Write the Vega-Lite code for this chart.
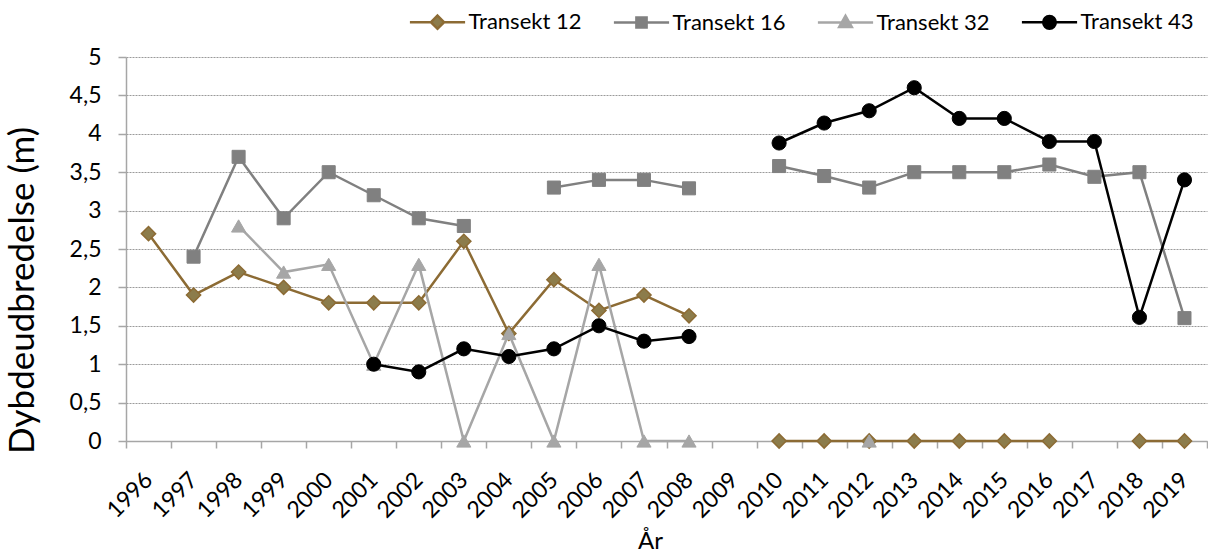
{
  "$schema": "https://vega.github.io/schema/vega-lite/v6.json",
  "autosize": "none",
  "width": 1081,
  "height": 384,
  "padding": {"left": 126, "top": 57, "right": 1, "bottom": 112},
  "background": "white",
  "config": {
    "view": {"stroke": null},
    "font": "Lato",
    "axis": {"labelFont": "Lato", "titleFont": "Lato", "labelColor": "#000000", "titleColor": "#000000", "titleFontWeight": "normal"},
    "legend": {"labelFont": "Lato"}
  },
  "data": {
    "values": [
      {"year": "1996", "series": "Transekt 12", "value": 2.7},
      {"year": "1997", "series": "Transekt 12", "value": 1.9},
      {"year": "1998", "series": "Transekt 12", "value": 2.2},
      {"year": "1999", "series": "Transekt 12", "value": 2.0},
      {"year": "2000", "series": "Transekt 12", "value": 1.8},
      {"year": "2001", "series": "Transekt 12", "value": 1.8},
      {"year": "2002", "series": "Transekt 12", "value": 1.8},
      {"year": "2003", "series": "Transekt 12", "value": 2.6},
      {"year": "2004", "series": "Transekt 12", "value": 1.4},
      {"year": "2005", "series": "Transekt 12", "value": 2.1},
      {"year": "2006", "series": "Transekt 12", "value": 1.7},
      {"year": "2007", "series": "Transekt 12", "value": 1.9},
      {"year": "2008", "series": "Transekt 12", "value": 1.63},
      {"year": "2009", "series": "Transekt 12", "value": null},
      {"year": "2010", "series": "Transekt 12", "value": 0},
      {"year": "2011", "series": "Transekt 12", "value": 0},
      {"year": "2012", "series": "Transekt 12", "value": 0},
      {"year": "2013", "series": "Transekt 12", "value": 0},
      {"year": "2014", "series": "Transekt 12", "value": 0},
      {"year": "2015", "series": "Transekt 12", "value": 0},
      {"year": "2016", "series": "Transekt 12", "value": 0},
      {"year": "2017", "series": "Transekt 12", "value": null},
      {"year": "2018", "series": "Transekt 12", "value": 0},
      {"year": "2019", "series": "Transekt 12", "value": 0},

      {"year": "1996", "series": "Transekt 16", "value": null},
      {"year": "1997", "series": "Transekt 16", "value": 2.4},
      {"year": "1998", "series": "Transekt 16", "value": 3.7},
      {"year": "1999", "series": "Transekt 16", "value": 2.9},
      {"year": "2000", "series": "Transekt 16", "value": 3.5},
      {"year": "2001", "series": "Transekt 16", "value": 3.2},
      {"year": "2002", "series": "Transekt 16", "value": 2.9},
      {"year": "2003", "series": "Transekt 16", "value": 2.8},
      {"year": "2004", "series": "Transekt 16", "value": null},
      {"year": "2005", "series": "Transekt 16", "value": 3.3},
      {"year": "2006", "series": "Transekt 16", "value": 3.4},
      {"year": "2007", "series": "Transekt 16", "value": 3.4},
      {"year": "2008", "series": "Transekt 16", "value": 3.29},
      {"year": "2009", "series": "Transekt 16", "value": null},
      {"year": "2010", "series": "Transekt 16", "value": 3.58},
      {"year": "2011", "series": "Transekt 16", "value": 3.45},
      {"year": "2012", "series": "Transekt 16", "value": 3.3},
      {"year": "2013", "series": "Transekt 16", "value": 3.5},
      {"year": "2014", "series": "Transekt 16", "value": 3.5},
      {"year": "2015", "series": "Transekt 16", "value": 3.5},
      {"year": "2016", "series": "Transekt 16", "value": 3.6},
      {"year": "2017", "series": "Transekt 16", "value": 3.44},
      {"year": "2018", "series": "Transekt 16", "value": 3.5},
      {"year": "2019", "series": "Transekt 16", "value": 1.6},

      {"year": "1996", "series": "Transekt 32", "value": null},
      {"year": "1997", "series": "Transekt 32", "value": null},
      {"year": "1998", "series": "Transekt 32", "value": 2.8},
      {"year": "1999", "series": "Transekt 32", "value": 2.2},
      {"year": "2000", "series": "Transekt 32", "value": 2.3},
      {"year": "2001", "series": "Transekt 32", "value": 1.0},
      {"year": "2002", "series": "Transekt 32", "value": 2.3},
      {"year": "2003", "series": "Transekt 32", "value": 0},
      {"year": "2004", "series": "Transekt 32", "value": 1.4},
      {"year": "2005", "series": "Transekt 32", "value": 0},
      {"year": "2006", "series": "Transekt 32", "value": 2.3},
      {"year": "2007", "series": "Transekt 32", "value": 0},
      {"year": "2008", "series": "Transekt 32", "value": 0},
      {"year": "2009", "series": "Transekt 32", "value": null},
      {"year": "2010", "series": "Transekt 32", "value": null},
      {"year": "2011", "series": "Transekt 32", "value": null},
      {"year": "2012", "series": "Transekt 32", "value": 0},
      {"year": "2013", "series": "Transekt 32", "value": null},
      {"year": "2014", "series": "Transekt 32", "value": null},
      {"year": "2015", "series": "Transekt 32", "value": null},
      {"year": "2016", "series": "Transekt 32", "value": null},
      {"year": "2017", "series": "Transekt 32", "value": null},
      {"year": "2018", "series": "Transekt 32", "value": null},
      {"year": "2019", "series": "Transekt 32", "value": null},

      {"year": "1996", "series": "Transekt 43", "value": null},
      {"year": "1997", "series": "Transekt 43", "value": null},
      {"year": "1998", "series": "Transekt 43", "value": null},
      {"year": "1999", "series": "Transekt 43", "value": null},
      {"year": "2000", "series": "Transekt 43", "value": null},
      {"year": "2001", "series": "Transekt 43", "value": 1.0},
      {"year": "2002", "series": "Transekt 43", "value": 0.9},
      {"year": "2003", "series": "Transekt 43", "value": 1.2},
      {"year": "2004", "series": "Transekt 43", "value": 1.1},
      {"year": "2005", "series": "Transekt 43", "value": 1.2},
      {"year": "2006", "series": "Transekt 43", "value": 1.5},
      {"year": "2007", "series": "Transekt 43", "value": 1.3},
      {"year": "2008", "series": "Transekt 43", "value": 1.36},
      {"year": "2009", "series": "Transekt 43", "value": null},
      {"year": "2010", "series": "Transekt 43", "value": 3.88},
      {"year": "2011", "series": "Transekt 43", "value": 4.14},
      {"year": "2012", "series": "Transekt 43", "value": 4.3},
      {"year": "2013", "series": "Transekt 43", "value": 4.6},
      {"year": "2014", "series": "Transekt 43", "value": 4.2},
      {"year": "2015", "series": "Transekt 43", "value": 4.2},
      {"year": "2016", "series": "Transekt 43", "value": 3.9},
      {"year": "2017", "series": "Transekt 43", "value": 3.9},
      {"year": "2018", "series": "Transekt 43", "value": 1.61},
      {"year": "2019", "series": "Transekt 43", "value": 3.4}
    ]
  },
  "encoding": {
    "x": {
      "field": "year",
      "type": "nominal",
      "sort": null,
      "scale": {
        "type": "band",
        "paddingInner": 0,
        "paddingOuter": 0,
        "domain": ["1996","1997","1998","1999","2000","2001","2002","2003","2004","2005","2006","2007","2008","2009","2010","2011","2012","2013","2014","2015","2016","2017","2018","2019"]
      },
      "axis": {
        "title": "År",
        "titleFontSize": 24,
        "titleX": 524,
        "titleY": 100,
        "titleAlign": "center",
        "titleBaseline": "middle",
        "labelAngle": -45,
        "labelAlign": "right",
        "labelBaseline": "middle",
        "labelFontSize": 23,
        "labelPadding": 28,
        "tickBand": "extent",
        "tickSize": 7,
        "tickColor": "#A6A6A6",
        "domainColor": "#A6A6A6",
        "domainWidth": 1.5,
        "tickWidth": 1.5,
        "grid": false
      }
    },
    "y": {
      "field": "value",
      "type": "quantitative",
      "scale": {"domain": [0, 5], "nice": false},
      "axis": {
        "title": "Dybdeudbredelse (m)",
        "titleFontSize": 35,
        "titleAngle": -90,
        "titleX": -104,
        "titleY": 233,
        "titleAlign": "center",
        "titleBaseline": "middle",
        "values": [0, 0.5, 1, 1.5, 2, 2.5, 3, 3.5, 4, 4.5, 5],
        "labelExpr": "replace(toString(datum.value), '.', ',')",
        "labelFontSize": 23,
        "labelPadding": 17,
        "tickSize": 8,
        "tickColor": "#A6A6A6",
        "domainColor": "#A6A6A6",
        "domainWidth": 1.5,
        "tickWidth": 1.5,
        "grid": true,
        "gridColor": "#9A9A9A",
        "gridDash": [2, 1],
        "gridWidth": 1
      }
    }
  },
  "layer": [
    {
      "mark": {"type": "line", "strokeWidth": 2.5, "invalid": "break-paths-show-domains"},
      "encoding": {
        "stroke": {
          "field": "series",
          "type": "nominal",
          "scale": {
            "domain": ["Transekt 12", "Transekt 16", "Transekt 32", "Transekt 43"],
            "range": ["#8C6B34", "#808080", "#A6A6A6", "#000000"]
          },
          "legend": {
            "title": null,
            "orient": "none",
            "direction": "horizontal",
            "legendX": 282,
            "legendY": -46,
            "padding": 0,
            "symbolSize": 144,
            "symbolOffset": 18.5,
            "labelOffset": 20,
            "labelFontSize": 22,
            "labelColor": "#000000",
            "columnPadding": 26,
            "symbolStrokeWidth": 2.5,
            "encode": {
              "symbols": {
                "update": {
                  "shape": {"signal": "datum.value === 'Transekt 12' ? 'M-4.6,0H-1.1M1.1,0H4.6M0,-1.1L1.1,0L0,1.1L-1.1,0Z' : datum.value === 'Transekt 16' ? 'M-4.6,0H-0.85M0.85,0H4.6M-0.85,-0.85H0.85V0.85H-0.85Z' : datum.value === 'Transekt 32' ? 'M-4.6,0H-0.6M0.6,0H4.6M0,-1.1L1.05,0.75H-1.05Z' : 'M-4.6,0H-1.05M1.05,0H4.6M1.05,0A1.05,1.05,0,1,1,-1.05,0A1.05,1.05,0,1,1,1.05,0Z'"},
                  "fill": {"signal": "datum.value === 'Transekt 12' ? '#8C7C4B' : datum.value === 'Transekt 16' ? '#808080' : datum.value === 'Transekt 32' ? '#A6A6A6' : '#000000'"},
                  "stroke": {"signal": "datum.value === 'Transekt 12' ? '#8C6B34' : datum.value === 'Transekt 16' ? '#808080' : datum.value === 'Transekt 32' ? '#A6A6A6' : '#000000'"},
                  "strokeWidth": {"value": 2.5},
                  "opacity": {"value": 1}
                }
              }
            }
          }
        }
      }
    },
    {
      "transform": [{"filter": "datum.series === 'Transekt 12' && isValid(datum.value)"}],
      "mark": {"type": "point", "shape": "diamond", "filled": true, "fill": "#8C7C4B", "stroke": "#8C6B34", "strokeWidth": 1.5, "size": 200, "opacity": 1}
    },
    {
      "transform": [{"filter": "datum.series === 'Transekt 16' && isValid(datum.value)"}],
      "mark": {"type": "point", "shape": "square", "filled": true, "fill": "#808080", "stroke": "#808080", "strokeWidth": 1, "size": 170, "opacity": 1}
    },
    {
      "transform": [{"filter": "datum.series === 'Transekt 32' && isValid(datum.value)"}],
      "mark": {"type": "point", "shape": "triangle-up", "filled": true, "fill": "#A6A6A6", "stroke": "#A6A6A6", "strokeWidth": 1, "size": 200, "opacity": 1}
    },
    {
      "transform": [{"filter": "datum.series === 'Transekt 43' && isValid(datum.value)"}],
      "mark": {"type": "point", "shape": "circle", "filled": true, "fill": "#000000", "stroke": "#000000", "strokeWidth": 1, "size": 200, "opacity": 1}
    }
  ]
}
